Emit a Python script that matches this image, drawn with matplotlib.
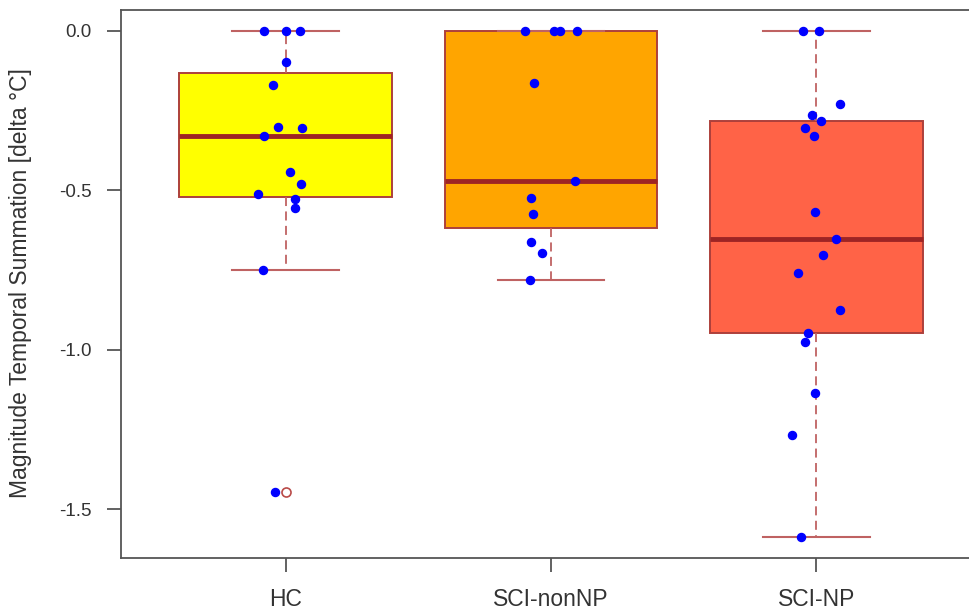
import matplotlib
matplotlib.use("Agg")
import matplotlib.pyplot as plt
import numpy as np

# groups and raw values
groups = ["HC", "SCI-nonNP", "SCI-NP"]
box_colors = ["#ffff00", "#ffa500", "#ff6347"]

hc = [0.0, 0.0, 0.0, -0.098, -0.169, -0.301, -0.305, -0.329, -0.443,
      -0.480, -0.513, -0.527, -0.556, -0.749, -1.446]
hc_jit = [-0.08, 0.0, 0.053, 0.0, -0.046, -0.029, 0.063, -0.08, 0.018,
          0.057, -0.103, 0.034, 0.034, -0.086, -0.04]

scinon = [0.0, 0.0, 0.0, 0.0, -0.165, -0.472, -0.523, -0.574, -0.663,
          -0.698, -0.781]
scinon_jit = [-0.097, 0.01, 0.035, 0.098, -0.063, 0.092, -0.074, -0.068,
              -0.074, -0.034, -0.079]

scinp = [0.0, 0.0, -0.230, -0.264, -0.282, -0.305, -0.329, -0.569, -0.654,
         -0.702, -0.758, -0.876, -0.947, -0.975, -1.136, -1.267, -1.588]
scinp_jit = [-0.052, 0.01, 0.09, -0.018, 0.016, -0.042, -0.011, -0.006,
             0.073, 0.023, -0.069, 0.09, -0.03, -0.042, -0.006, -0.092, -0.058]

data = [hc, scinon, scinp]
jitter = [hc_jit, scinon_jit, scinp_jit]

plt.rcParams['font.family'] = ['Liberation Sans', 'DejaVu Sans']

fig = plt.figure(figsize=(9.69, 6.16), dpi=100)
ax = fig.add_axes([121 / 969, 1 - 557.5 / 616, 860 / 969, 548 / 616])

edge = "#ad403b"
bp = ax.boxplot(data, positions=[1, 2, 3], widths=0.8, capwidths=0.4,
                patch_artist=True, whis=1.5,
                boxprops=dict(edgecolor=edge, linewidth=1.4),
                whiskerprops=dict(color="#bf6262", linewidth=1.3,
                                  linestyle=(0, (5, 3))),
                capprops=dict(color="#bf6262", linewidth=1.5),
                medianprops=dict(color="#9e2424", linewidth=3.5),
                flierprops=dict(marker="o", markerfacecolor="none",
                                markeredgecolor="#b94a48", markersize=6.5,
                                markeredgewidth=1.2))
for patch, c in zip(bp['boxes'], box_colors):
    patch.set_facecolor(c)

# strip chart on top
for i, (vals, jit) in enumerate(zip(data, jitter)):
    xs = np.array(jit) + i + 1
    ax.plot(xs, vals, 'o', color='#0000ff', markersize=5.8, zorder=5,
            linestyle='none')

ax.set_xlim(0.38, 3.62)
ax.set_ylim(-1.652, 0.067)
ax.set_yticks([0.0, -0.5, -1.0, -1.5])
ax.set_yticklabels(["0.0", "-0.5", "-1.0", "-1.5"])
ax.set_xticks([1, 2, 3])
ax.set_xticklabels(groups)

for s in ax.spines.values():
    s.set_color("#555555")
    s.set_linewidth(1.3)

ax.tick_params(axis='y', direction='out', length=10, width=1.3,
               color="#555555", labelsize=13.5, labelcolor="#333333", pad=11)
ax.tick_params(axis='x', direction='out', length=10, width=1.3,
               color="#555555", labelsize=16.5, labelcolor="#333333", pad=12)

ax.set_ylabel("Magnitude Temporal Summation [delta °C]", fontsize=16.5,
              color="#333333")
ax.yaxis.set_label_coords(-0.104, 0.5)

fig.savefig("out.png", dpi=100)
